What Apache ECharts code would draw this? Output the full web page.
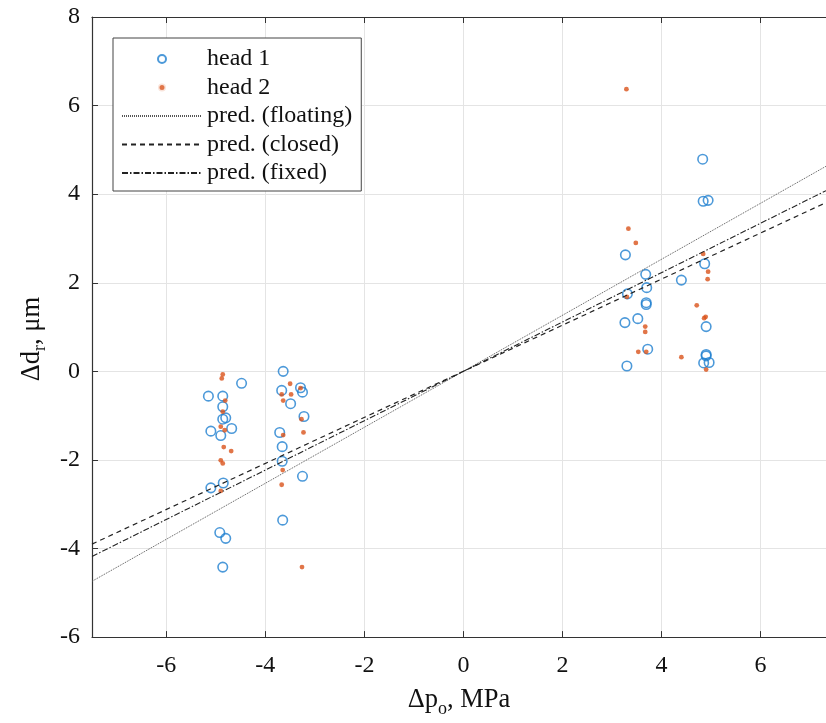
<!DOCTYPE html>
<html>
<head>
<meta charset="utf-8">
<script src="https://cdn.jsdelivr.net/npm/echarts@6/dist/echarts.min.js"></script>
<style>
  html, body { margin: 0; padding: 0; background: #fff; }
  #chart { width: 826px; height: 723px; }
</style>
</head>
<body>
<div id="chart"></div>
<script>
// head 1 measurements (Δp_o MPa, Δd_r µm)
var head1 = [
  [-5.15, -0.56], [-4.86, -0.56], [-4.48, -0.27], [-4.86, -0.80], [-4.86, -1.08],
  [-4.80, -1.05], [-4.68, -1.29], [-5.10, -1.35], [-4.90, -1.45], [-5.10, -2.63],
  [-4.85, -2.52], [-4.92, -3.64], [-4.80, -3.77], [-4.86, -4.42],
  [-3.64, 0.00], [-3.67, -0.43], [-3.29, -0.37], [-3.25, -0.47], [-3.49, -0.73],
  [-3.22, -1.02], [-3.71, -1.38], [-3.66, -1.70], [-3.66, -2.03], [-3.25, -2.37],
  [-3.65, -3.36],
  [4.83, 4.79], [4.84, 3.84], [4.94, 3.86], [3.27, 2.63], [3.68, 2.19],
  [4.87, 2.43], [3.31, 1.75], [3.70, 1.89], [4.40, 2.06], [3.69, 1.55],
  [3.69, 1.51], [3.26, 1.10], [3.52, 1.19], [4.90, 1.01], [3.72, 0.50],
  [4.90, 0.38], [4.90, 0.35], [4.85, 0.19], [4.96, 0.20], [3.30, 0.12]
];
// head 2 measurements
var head2 = [
  [-4.86, -0.07], [-4.88, -0.16], [-4.81, -0.66], [-4.86, -0.91], [-4.90, -1.25],
  [-4.82, -1.33], [-4.84, -1.71], [-4.69, -1.80], [-4.90, -2.01], [-4.86, -2.08],
  [-4.90, -2.70],
  [-3.50, -0.28], [-3.67, -0.52], [-3.48, -0.52], [-3.64, -0.66], [-3.29, -0.38],
  [-3.27, -1.08], [-3.64, -1.44], [-3.23, -1.38], [-3.65, -2.23], [-3.67, -2.56],
  [-3.26, -4.42],
  [3.29, 6.37], [3.33, 3.22], [3.48, 2.90], [3.30, 1.68], [4.84, 2.65],
  [4.94, 2.25], [4.93, 2.08], [4.71, 1.49], [4.89, 1.23], [4.86, 1.20],
  [3.67, 1.01], [3.67, 0.89], [3.53, 0.44], [3.69, 0.44], [4.40, 0.32],
  [4.90, 0.04]
];
// predicted lines (end points)
var predFloating = [[-7.5, -4.74], [7.32, 4.63]];
var predClosed = [[-7.5, -3.90], [7.32, 3.81]];
var predFixed = [[-7.5, -4.18], [7.32, 4.08]];

var xTicks = [-6, -4, -2, 0, 2, 4, 6];
var yTicks = [-6, -4, -2, 0, 2, 4, 6, 8];

var font = '"Liberation Serif", "Times New Roman", serif';
var axisColor = '#333';
var nameRich = {
    a: { fontFamily: font, fontSize: 26.5, color: '#111', lineHeight: 30 },
    s: { fontFamily: font, fontSize: 18, color: '#111', lineHeight: 18, padding: [17, 0, 0, 0] }
};

var option = {
    animation: false,
    backgroundColor: '#fff',
    textStyle: { fontFamily: font },
    grid: { left: 92, top: 17, right: 0, bottom: 85, show: false },
    legend: {
        orient: 'vertical',
        left: 113,
        top: 38,
        padding: [9, 9, 6, 8],
        itemWidth: 80,
        itemHeight: 8,
        itemGap: 4.5,
        backgroundColor: '#fff',
        borderColor: '#444',
        borderWidth: 1,
        textStyle: { fontFamily: font, fontSize: 24, color: '#111', lineHeight: 24 },
        data: [
            { name: 'head 1' },
            { name: 'head 2', itemStyle: { borderColor: '#fff', borderWidth: 3 } },
            { name: 'pred. (floating)', itemStyle: { opacity: 0 } },
            { name: 'pred. (closed)', itemStyle: { opacity: 0 } },
            { name: 'pred. (fixed)', itemStyle: { opacity: 0 } }
        ]
    },
    xAxis: [
        {
            type: 'value',
            min: -7.5, max: 7.32,
            position: 'bottom',
            name: '{a|Δp}{s|o}{a|, MPa}',
            nameLocation: 'middle',
            nameGap: 41,
            nameTextStyle: { rich: nameRich },
            axisLine: { onZero: false, lineStyle: { color: axisColor, width: 1.2 } },
            axisTick: { inside: true, length: 6, customValues: xTicks, lineStyle: { color: axisColor } },
            axisLabel: { fontFamily: font, fontSize: 24, color: '#111', margin: 17, customValues: xTicks },
            splitLine: { show: true, lineStyle: { color: '#e4e4e4', width: 1 } }
        },
        {
            type: 'value',
            min: -7.5, max: 7.32,
            position: 'top',
            axisLine: { onZero: false, lineStyle: { color: axisColor, width: 1.2 } },
            axisTick: { inside: true, length: 6, customValues: xTicks, lineStyle: { color: axisColor } },
            axisLabel: { show: false },
            splitLine: { show: false }
        }
    ],
    yAxis: {
        type: 'value',
        min: -6, max: 8, interval: 2,
        name: '{a|Δd}{s|r}{a|, μm}',
        nameLocation: 'middle',
        nameGap: 38,
        nameTextStyle: { rich: nameRich, padding: [0, 24, 0, 0] },
        axisLine: { show: true, onZero: false, lineStyle: { color: axisColor, width: 1.2 } },
        axisTick: { show: true, inside: true, length: 6, lineStyle: { color: axisColor } },
        axisLabel: { fontFamily: font, fontSize: 24, color: '#111', margin: 12, customValues: yTicks },
        splitLine: { show: true, lineStyle: { color: '#e4e4e4', width: 1 } }
    },
    series: [
        {
            name: 'head 1',
            type: 'scatter',
            data: head1,
            symbol: 'circle',
            symbolSize: 9.5,
            itemStyle: { color: 'rgba(255,255,255,0)', borderColor: '#1f80cf', borderWidth: 1.6 }
        },
        {
            name: 'head 2',
            type: 'scatter',
            data: head2,
            symbol: 'circle',
            symbolSize: 4.8,
            itemStyle: { color: '#d9531a' }
        },
        {
            name: 'pred. (floating)',
            type: 'line',
            data: predFloating,
            symbol: 'none',
            itemStyle: { color: '#555' },
            lineStyle: { color: '#555', width: 1, type: [1, 1] }
        },
        {
            name: 'pred. (closed)',
            type: 'line',
            data: predClosed,
            symbol: 'none',
            itemStyle: { color: '#222' },
            lineStyle: { color: '#222', width: 1.2, type: [5, 4] }
        },
        {
            name: 'pred. (fixed)',
            type: 'line',
            data: predFixed,
            symbol: 'none',
            itemStyle: { color: '#222' },
            lineStyle: { color: '#222', width: 1.1, type: [6, 2, 1.5, 2] }
        }
    ]
};

var chartContainer = document.getElementById('chart');
var chart = echarts.init(chartContainer);
chart.setOption(option);
</script>
</body>
</html>
